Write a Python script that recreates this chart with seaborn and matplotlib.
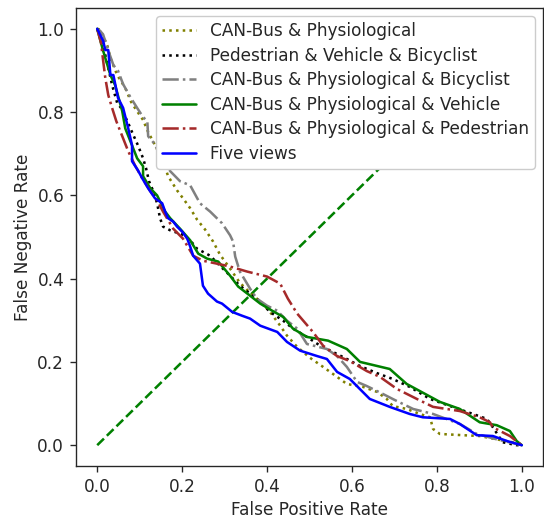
import numpy as np
import pandas as pd
import matplotlib
matplotlib.use("Agg")
import matplotlib.pyplot as plt
import seaborn as sns

# ---- data (FPR, FNR) ----
olive_x = [0, 0.007, 0.014, 0.024, 0.031, 0.047, 0.066, 0.080, 0.094, 0.108, 0.120, 0.134, 0.155, 0.167,
           0.188, 0.202, 0.219, 0.235, 0.254, 0.273, 0.289, 0.313, 0.336, 0.36, 0.384, 0.407, 0.431, 0.447,
           0.471, 0.501, 0.532, 0.565, 0.588, 0.626, 0.659, 0.682, 0.696, 0.729, 0.760, 0.784, 0.788, 0.791,
           0.807, 0.861, 0.901, 0.941, 0.979, 1.0]
olive_y = [1.0, 0.998, 0.983, 0.959, 0.930, 0.889, 0.858, 0.824, 0.802, 0.781, 0.752, 0.725, 0.682, 0.646,
           0.612, 0.593, 0.569, 0.542, 0.518, 0.489, 0.458, 0.424, 0.390, 0.366, 0.345, 0.320, 0.287, 0.263,
           0.236, 0.210, 0.188, 0.164, 0.147, 0.140, 0.128, 0.111, 0.094, 0.087, 0.075, 0.067, 0.051, 0.039,
           0.027, 0.024, 0.022, 0.014, 0.007, 0.0]

black_x = [0, 0.007, 0.014, 0.019, 0.026, 0.035, 0.047, 0.056, 0.071, 0.085, 0.096, 0.108, 0.115, 0.122,
           0.132, 0.141, 0.148, 0.155, 0.172, 0.200, 0.219, 0.235, 0.266, 0.289, 0.313, 0.336, 0.36, 0.384,
           0.407, 0.438, 0.461, 0.494, 0.525, 0.555, 0.588, 0.619, 0.659, 0.696, 0.736, 0.784, 0.831, 0.885,
           0.918, 0.932, 0.955, 0.988, 1.0]
black_y = [1.0, 0.978, 0.947, 0.937, 0.906, 0.865, 0.822, 0.810, 0.778, 0.745, 0.720, 0.689, 0.665, 0.634,
           0.610, 0.581, 0.545, 0.525, 0.516, 0.506, 0.492, 0.472, 0.455, 0.431, 0.407, 0.383, 0.364, 0.345,
           0.320, 0.299, 0.280, 0.260, 0.239, 0.224, 0.207, 0.190, 0.173, 0.159, 0.140, 0.111, 0.094, 0.075,
           0.063, 0.043, 0.007, 0.0, 0.0]

gray_x = [0, 0.007, 0.014, 0.024, 0.038, 0.049, 0.061, 0.078, 0.094, 0.108, 0.118, 0.120, 0.134, 0.153,
          0.172, 0.195, 0.219, 0.242, 0.266, 0.294, 0.313, 0.320, 0.325, 0.336, 0.36, 0.376, 0.400, 0.424,
          0.447, 0.471, 0.494, 0.541, 0.565, 0.588, 0.612, 0.635, 0.673, 0.696, 0.744, 0.791, 0.854, 0.894,
          0.941, 1.0]
gray_y = [1.0, 0.995, 0.986, 0.954, 0.913, 0.899, 0.867, 0.836, 0.810, 0.788, 0.778, 0.742, 0.725, 0.689,
          0.658, 0.634, 0.624, 0.581, 0.561, 0.533, 0.504, 0.489, 0.453, 0.417, 0.376, 0.352, 0.335, 0.323,
          0.299, 0.280, 0.243, 0.231, 0.214, 0.188, 0.152, 0.142, 0.123, 0.111, 0.087, 0.075, 0.051, 0.027,
          0.014, 0.0]

green_x = [0, 0.014, 0.031, 0.042, 0.059, 0.066, 0.082, 0.094, 0.108, 0.108, 0.125, 0.141, 0.160, 0.172,
           0.195, 0.219, 0.238, 0.259, 0.285, 0.313, 0.332, 0.36, 0.384, 0.412, 0.438, 0.461, 0.494, 0.544,
           0.588, 0.619, 0.689, 0.729, 0.807, 0.854, 0.901, 0.941, 0.972, 0.988, 1.0]
green_y = [1.0, 0.947, 0.889, 0.865, 0.802, 0.761, 0.720, 0.689, 0.670, 0.646, 0.617, 0.600, 0.561, 0.545,
           0.520, 0.492, 0.460, 0.448, 0.441, 0.407, 0.381, 0.359, 0.340, 0.323, 0.308, 0.280, 0.260, 0.251,
           0.231, 0.200, 0.183, 0.147, 0.104, 0.087, 0.055, 0.048, 0.034, 0.010, 0.0]

red_x = [0, 0.009, 0.014, 0.019, 0.026, 0.035, 0.045, 0.059, 0.073, 0.089, 0.106, 0.125, 0.141, 0.155,
         0.179, 0.202, 0.226, 0.249, 0.282, 0.313, 0.353, 0.400, 0.431, 0.449, 0.471, 0.508, 0.532, 0.565,
         0.595, 0.635, 0.666, 0.706, 0.753, 0.791, 0.854, 0.901, 0.925, 0.932, 0.972, 1.0]
red_y = [1.0, 0.966, 0.923, 0.882, 0.841, 0.810, 0.778, 0.742, 0.706, 0.672, 0.641, 0.610, 0.588, 0.561,
         0.520, 0.496, 0.455, 0.443, 0.436, 0.429, 0.417, 0.405, 0.388, 0.352, 0.316, 0.272, 0.239, 0.214,
         0.202, 0.178, 0.164, 0.135, 0.111, 0.092, 0.082, 0.067, 0.055, 0.043, 0.022, 0.0]

blue_x = [0, 0.014, 0.019, 0.026, 0.031, 0.038, 0.049, 0.061, 0.073, 0.082, 0.082, 0.096, 0.106, 0.120,
          0.136, 0.153, 0.160, 0.167, 0.179, 0.188, 0.200, 0.212, 0.219, 0.226, 0.242, 0.249, 0.261, 0.282,
          0.294, 0.318, 0.341, 0.36, 0.384, 0.424, 0.447, 0.478, 0.518, 0.541, 0.565, 0.595, 0.642, 0.689,
          0.736, 0.767, 0.831, 0.854, 0.894, 0.932, 0.965, 1.0]
blue_y = [1.0, 0.971, 0.949, 0.949, 0.889, 0.889, 0.834, 0.810, 0.761, 0.720, 0.682, 0.660, 0.641, 0.617,
          0.593, 0.581, 0.561, 0.545, 0.537, 0.525, 0.513, 0.496, 0.477, 0.455, 0.436, 0.383, 0.364, 0.345,
          0.340, 0.320, 0.311, 0.304, 0.287, 0.272, 0.248, 0.227, 0.214, 0.207, 0.176, 0.159, 0.111, 0.092,
          0.075, 0.067, 0.063, 0.051, 0.024, 0.022, 0.010, 0.0]

diag_x = [0.0, 1.0]
diag_y = [0.0, 1.0]

labels = ["CAN-Bus & Physiological",
          "Pedestrian & Vehicle & Bicyclist",
          "CAN-Bus & Physiological & Bicyclist",
          "CAN-Bus & Physiological & Vehicle",
          "CAN-Bus & Physiological & Pedestrian",
          "Five views"]

series = [(olive_x, olive_y, "olive", ":"),
          (black_x, black_y, "black", ":"),
          (gray_x, gray_y, "gray", "-."),
          (green_x, green_y, "green", "-"),
          (red_x, red_y, "brown", "-."),
          (blue_x, blue_y, "blue", "-")]

S = 1.22
sns.set_style("ticks")
plt.rcParams['font.family'] = ['DejaVu Sans']
plt.rcParams.update({
    'font.size': 10 * S,
    'axes.linewidth': 0.8 * S,
    'xtick.major.size': 3.5 * S, 'ytick.major.size': 3.5 * S,
    'xtick.major.width': 0.8 * S, 'ytick.major.width': 0.8 * S,
    'xtick.major.pad': 3.5 * S, 'ytick.major.pad': 3.5 * S,
    'lines.linewidth': 1.5 * S,
})

fig = plt.figure(figsize=(5.44, 5.19), dpi=100)
ax = fig.add_axes([76 / 544, 1 - 466 / 519, (543 - 76) / 544, (466 - 8) / 519])

sns.lineplot(x=diag_x, y=diag_y, ax=ax, color="green", linestyle="--", linewidth=1.5 * S)

for (xs, ys, c, ls), lab in zip(series, labels):
    df = pd.DataFrame({"x": xs, "y": ys})
    sns.lineplot(data=df, x="x", y="y", ax=ax, color=c, linestyle=ls, linewidth=1.5 * S,
                 label=lab, sort=False, estimator=None)

ax.set_xlabel("False Positive Rate", fontsize=10 * S)
ax.set_ylabel("False Negative Rate", fontsize=10 * S)
ax.set_xticks([0.0, 0.2, 0.4, 0.6, 0.8, 1.0])
ax.set_yticks([0.0, 0.2, 0.4, 0.6, 0.8, 1.0])
ax.tick_params(labelsize=10 * S)
ax.legend(loc="upper right", framealpha=1.0, fontsize=10 * S, labelspacing=0.38,
          borderpad=0.35)

fig.savefig("out.png", dpi=100)
